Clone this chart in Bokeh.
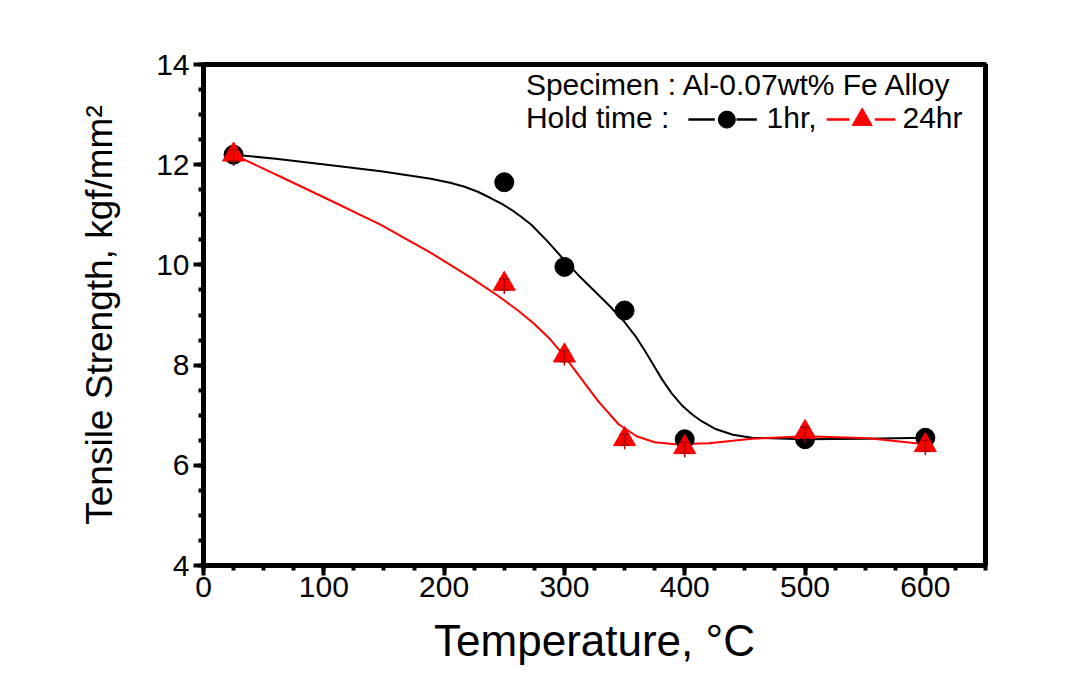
from bokeh.plotting import figure
from bokeh.models import Range1d, FixedTicker, Label
from bokeh.embed import file_html
from bokeh.resources import INLINE

# ---- data ----
temp = [25, 250, 300, 350, 400, 500, 600]
ts_1hr = [12.2, 11.65, 9.96, 9.09, 6.52, 6.52, 6.55]
ts_24hr = [12.2, 9.62, 8.19, 6.52, 6.36, 6.66, 6.4]
err_1hr = [0.22, 0.1, 0.1, 0.1, 0.1, 0.1, 0.1]
err_24hr = [0.2, 0.2, 0.2, 0.2, 0.2, 0.2, 0.2]

# smooth fitted curves
fit_1hr_x = [25, 60, 106, 147.5, 189, 205, 217, 228, 239, 248, 256, 264, 272.5, 286, 297.5,
             311, 325, 338, 350, 359, 367, 374, 381, 389, 397.5, 406, 414, 425, 440, 456,
             500, 550, 600]
fit_1hr_y = [12.2, 12.12, 11.99, 11.87, 11.72, 11.64, 11.56, 11.46, 11.33, 11.22, 11.1, 10.96,
             10.8, 10.47, 10.16, 9.81, 9.48, 9.17, 8.86, 8.58, 8.28, 8.0, 7.72, 7.44, 7.2,
             7.02, 6.88, 6.73, 6.61, 6.55, 6.52, 6.53, 6.55]
fit_24hr_x = [25, 65, 106, 147.5, 189, 222.5, 245, 262, 275, 288, 300, 313, 328, 345, 360,
              375, 392, 420, 456, 500, 553, 600]
fit_24hr_y = [12.2, 11.75, 11.28, 10.8, 10.24, 9.74, 9.38, 9.08, 8.82, 8.52, 8.18, 7.76, 7.28,
              6.82, 6.58, 6.46, 6.42, 6.44, 6.53, 6.58, 6.54, 6.42]

x_ticks = [0, 100, 200, 300, 400, 500, 600]
y_ticks = [4, 6, 8, 10, 12, 14]
x_minor = [v * 25 for v in range(0, 27)]
y_minor = [4 + v * 0.5 for v in range(0, 21)]

FONT = "Liberation Sans"

p = figure(width=1070, height=667, output_backend="svg", toolbar_location=None,
           x_range=Range1d(0, 650), y_range=Range1d(4, 14),
           min_border_left=203, min_border_right=85,
           min_border_top=64, min_border_bottom=102)
p.grid.visible = False
p.outline_line_color = "black"
p.outline_line_width = 5
p.background_fill_color = "white"
p.border_fill_color = "white"

p.xaxis.ticker = FixedTicker(ticks=x_ticks, minor_ticks=x_minor)
p.yaxis.ticker = FixedTicker(ticks=y_ticks, minor_ticks=y_minor)
for ax in (p.xaxis, p.yaxis):
    ax.axis_line_width = 5
    ax.axis_line_color = "black"
    ax.major_tick_line_width = 4
    ax.minor_tick_line_width = 4
    ax.major_tick_out = 10
    ax.major_tick_in = 0
    ax.minor_tick_out = 5
    ax.minor_tick_in = 0
    ax.major_label_text_font = FONT
    ax.major_label_text_font_size = "30px"
    ax.major_label_text_color = "black"
    ax.axis_label_text_font = FONT
    ax.axis_label_text_font_style = "normal"
    ax.axis_label_text_color = "black"

p.xaxis.major_label_standoff = 1
p.yaxis.major_label_standoff = 4
p.xaxis.axis_label = "Temperature, \u00b0C"
p.xaxis.axis_label_text_font_size = "44px"
p.xaxis.axis_label_standoff = 16
p.yaxis.axis_label = "Tensile Strength, kgf/mm\u00b2"
p.yaxis.axis_label_text_font_size = "37px"
p.yaxis.axis_label_standoff = 33

# fitted curves
p.line(fit_1hr_x, fit_1hr_y, line_color="black", line_width=2)
p.line(fit_24hr_x, fit_24hr_y, line_color="red", line_width=2)

# error bars
p.segment(x0=temp, y0=[v - e for v, e in zip(ts_1hr, err_1hr)],
          x1=temp, y1=[v + e for v, e in zip(ts_1hr, err_1hr)],
          line_color="black", line_width=1.5)

# markers
p.scatter(temp, ts_1hr, marker="circle", size=19, fill_color="black", line_color="black")
p.scatter(temp, ts_24hr, marker="triangle", size=22, fill_color="red", line_color="red")

# error bars of the 24 hr series (drawn through the triangles)
lo24 = [v - e for v, e in zip(ts_24hr, err_24hr)]
hi24 = [v + 0.5 * e for v, e in zip(ts_24hr, err_24hr)]
p.segment(x0=temp, y0=lo24, x1=temp, y1=hi24, line_color="#b00000", line_width=1.5)
p.scatter(temp, [v - 0.6 * e for v, e in zip(ts_24hr, err_24hr)], marker="dash", size=10,
          line_color="#b00000", line_width=1.5)
p.scatter(temp, hi24, marker="dash", size=10, line_color="#b00000", line_width=1.5)

# legend block
def lab(txt, x, y):
    p.add_layout(Label(x=x, y=y, text=txt, text_font=FONT, text_font_size="30px",
                       text_color="black", text_baseline="middle", text_align="left"))

lab("Specimen : Al-0.07wt% Fe Alloy", 268, 13.6)
lab("Hold time :", 268, 12.94)
lab("1hr,", 468, 12.94)
lab("24hr", 581, 12.94)
leg_y = 12.9
p.segment(x0=[403, 443], y0=[leg_y, leg_y], x1=[425, 460], y1=[leg_y, leg_y],
          line_color="black", line_width=2.5)
p.scatter([435], [leg_y], marker="circle", size=17, fill_color="black", line_color="black")
p.segment(x0=[518, 558], y0=[leg_y, leg_y], x1=[537, 575], y1=[leg_y, leg_y],
          line_color="red", line_width=2.5)
p.scatter([547.5], [leg_y], marker="triangle", size=20, fill_color="red", line_color="red")

open("out.html", "w").write(file_html(p, INLINE))
